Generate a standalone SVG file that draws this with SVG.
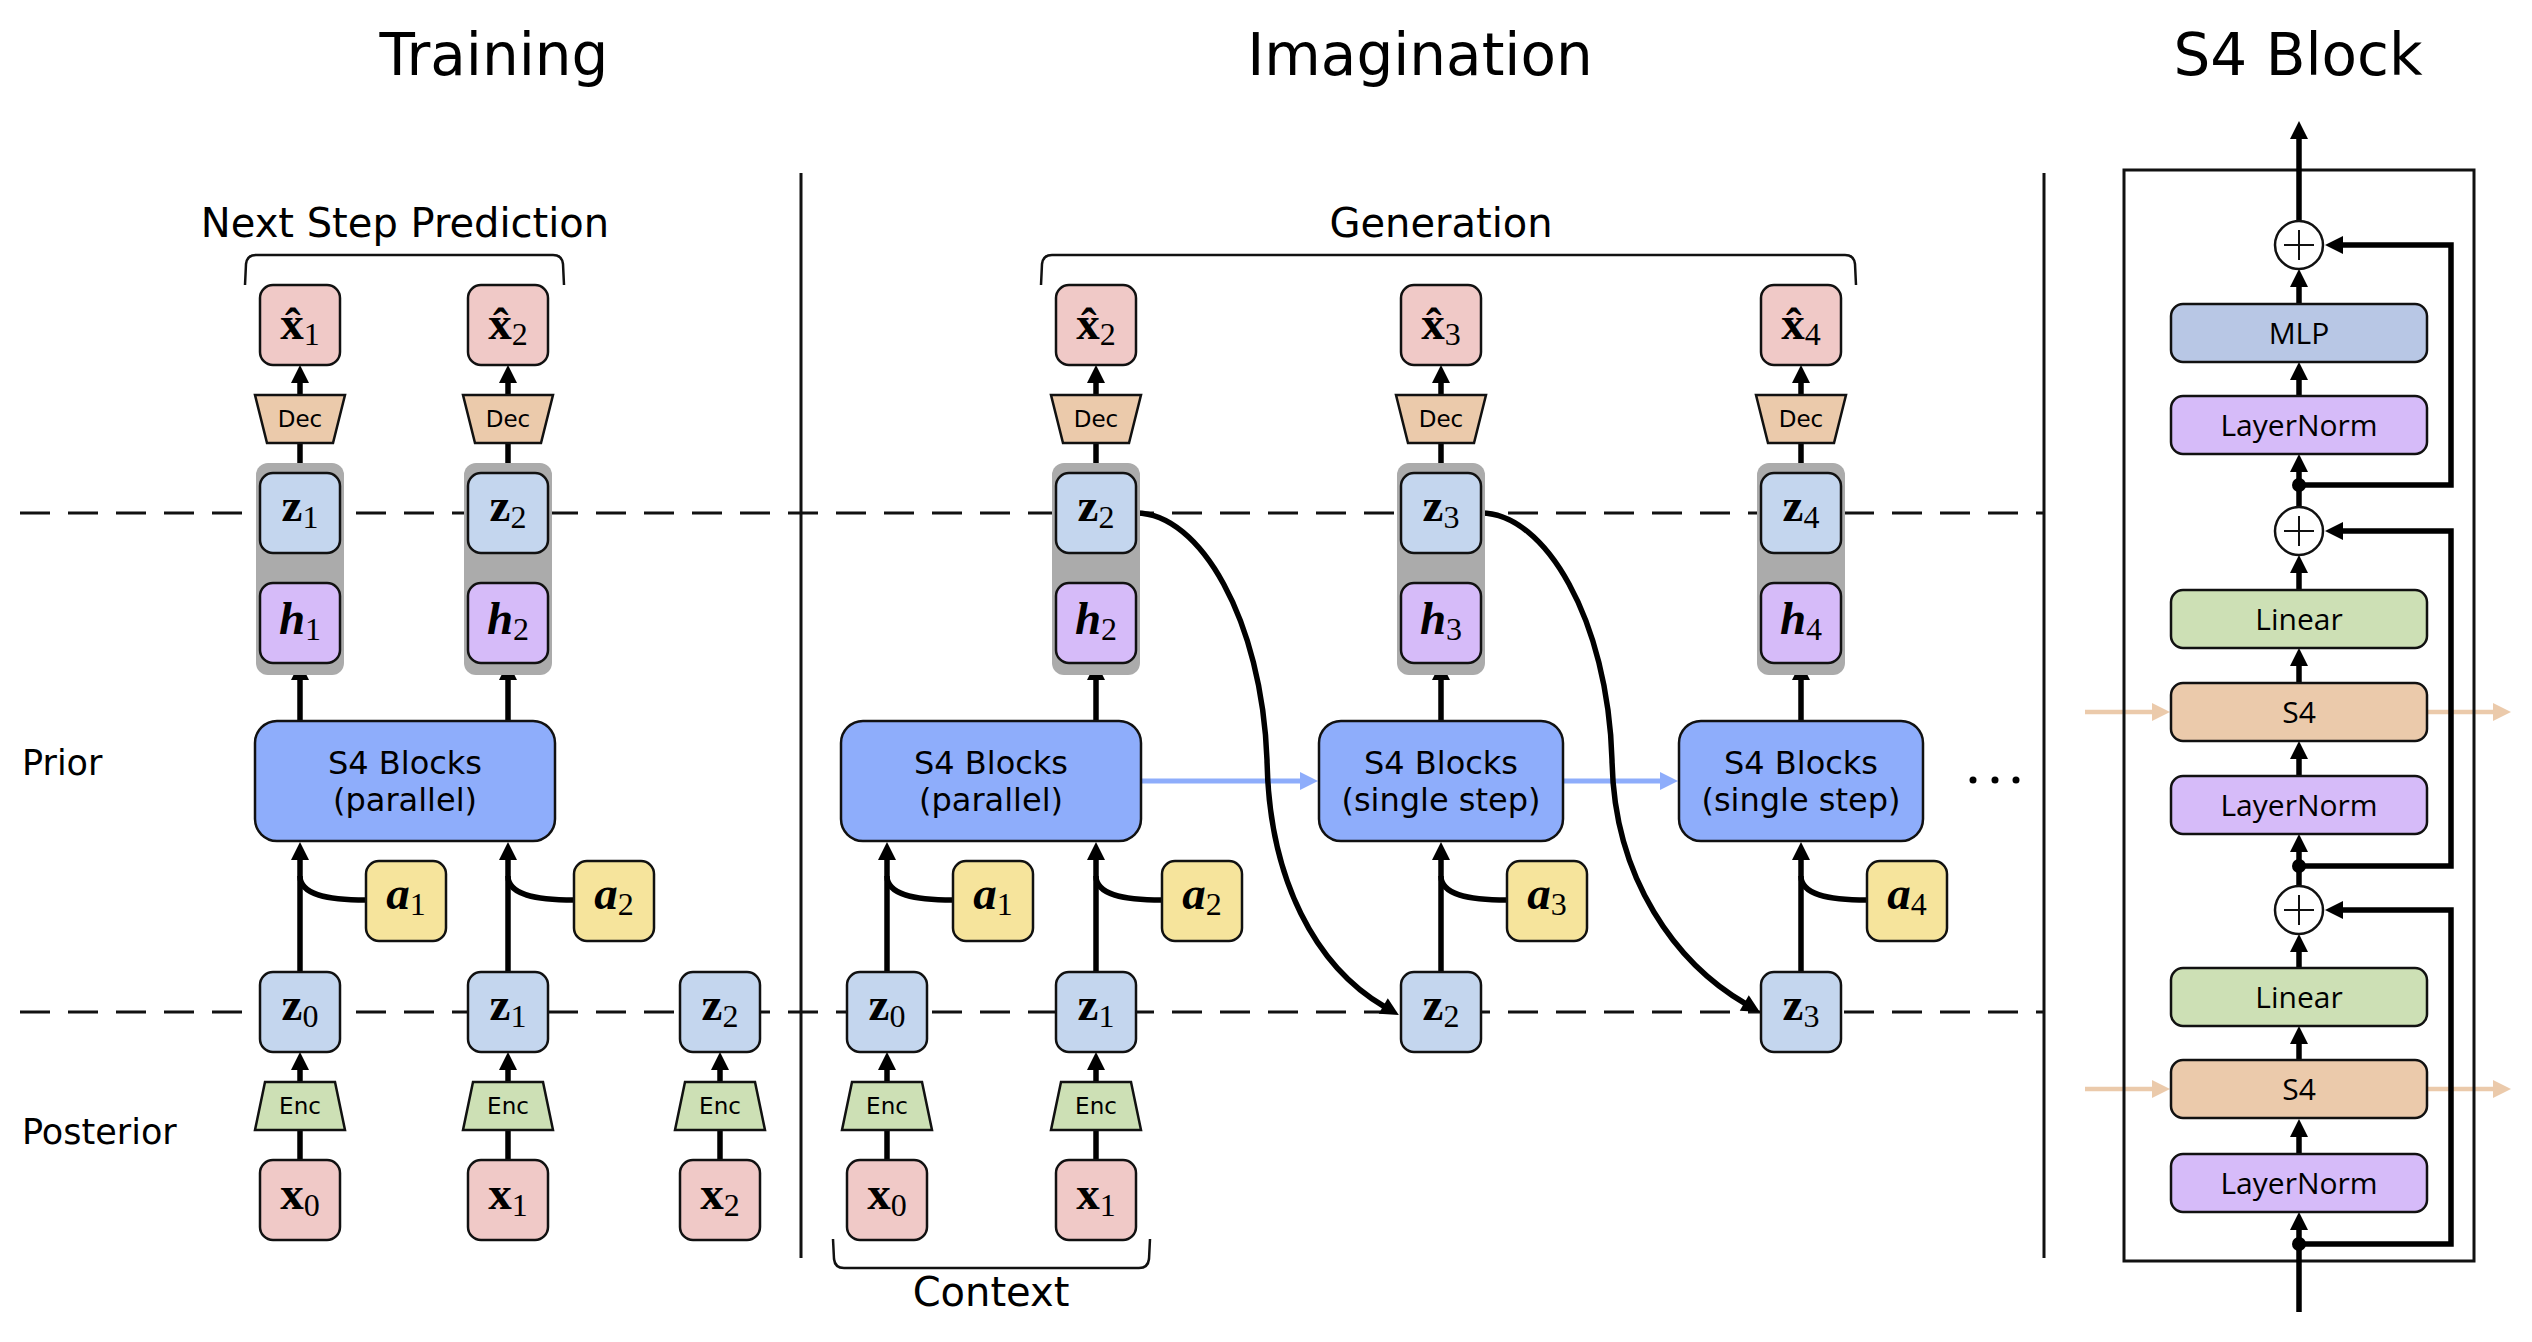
<svg xmlns="http://www.w3.org/2000/svg" width="2532" height="1342" viewBox="0 0 2532 1342">
<style>
.box{stroke:#111;stroke-width:2.5}
.xb{fill:#f0c9c7}.zb{fill:#c4d6ee}.hb{fill:#d6bbf9}.ab{fill:#f6e49c}.dec{fill:#ebcaab}.enc{fill:#cde0b5}.s4b{fill:#8eadfb}.gray{fill:#ababab}.mlp{fill:#b8c7e5}
.m{font-family:"Liberation Serif","DejaVu Serif",serif;font-weight:bold;font-size:47px;text-anchor:middle;fill:#000}
.mi{font-family:"Liberation Serif","DejaVu Serif",serif;font-weight:bold;font-style:italic;font-size:47px;text-anchor:middle;fill:#000}
.s{font-weight:normal;font-style:normal;font-size:32px}
.t{font-family:"DejaVu Sans",sans-serif;fill:#000}
.title{font-size:58px;text-anchor:middle}
.lbl{font-size:40px;text-anchor:middle}
.side{font-size:35px}
.s4t{font-size:32px;text-anchor:middle}
.small{font-size:23px;text-anchor:middle}
.pt{font-family:"Open Sans","Noto Sans",sans-serif;font-size:30px;text-anchor:middle;fill:#000}
.ln{stroke:#000;stroke-width:5.5;fill:none}
.br{stroke:#111;stroke-width:2.5;fill:none}
.dash{stroke:#111;stroke-width:3;stroke-dasharray:30 18;fill:none}
.sep{stroke:#111;stroke-width:3}
.blue{stroke:#8eadfb;stroke-width:5;fill:none}
.peach{stroke:#ebcaab;stroke-width:4.5;fill:none}
</style>
<defs>
<marker id="ah" viewBox="-2 -9 18 18" refX="0" refY="0" markerWidth="18" markerHeight="18" markerUnits="userSpaceOnUse" orient="auto" overflow="visible"><path d="M-2,-9 L16,0 L-2,9 Z" fill="#000"/></marker>
<marker id="ahb" viewBox="-2 -9 18 18" refX="0" refY="0" markerWidth="18" markerHeight="18" markerUnits="userSpaceOnUse" orient="auto" overflow="visible"><path d="M-2,-9 L16,0 L-2,9 Z" fill="#8eadfb"/></marker>
<marker id="ahp" viewBox="-2 -9 18 18" refX="0" refY="0" markerWidth="18" markerHeight="18" markerUnits="userSpaceOnUse" orient="auto" overflow="visible"><path d="M-2,-9 L16,0 L-2,9 Z" fill="#ebcaab"/></marker>
</defs>
<rect width="2532" height="1342" fill="#fff"/>

<g id="labels">
<text class="t title" x="494" y="75">Training</text>
<text class="t title" x="1420" y="75">Imagination</text>
<text class="t title" x="2298" y="75">S4 Block</text>
<text class="t lbl" x="405" y="237">Next Step Prediction</text>
<text class="t lbl" x="1441" y="237">Generation</text>
<text class="t lbl" x="991" y="1306">Context</text>
<text class="t side" x="22" y="775">Prior</text>
<text class="t side" x="22" y="1144">Posterior</text>
<path class="br" d="M245,285 L246,264 Q247,255 256,255 L553,255 Q562,255 563,264 L564,285"/>
<path class="br" d="M1041,285 L1042,264 Q1043,255 1052,255 L1845,255 Q1854,255 1855,264 L1856,285"/>
<path class="br" d="M833,1239 L834,1259 Q835,1268 844,1268 L1139,1268 Q1148,1268 1149,1259 L1150,1239"/>
<circle cx="1973" cy="780" r="3.5"/><circle cx="1995" cy="780" r="3.5"/><circle cx="2016" cy="780" r="3.5"/>
</g>

<g id="guides">
<line class="dash" x1="20" y1="513" x2="2043" y2="513"/>
<line class="dash" x1="20" y1="1012" x2="2043" y2="1012"/>
<line class="sep" x1="801" y1="173" x2="801" y2="1258"/>
<line class="sep" x1="2044" y1="173" x2="2044" y2="1258"/>
</g>

<g id="connectors">
<line class="ln" x1="300" y1="395" x2="300" y2="381" marker-end="url(#ah)"/>
<line class="ln" x1="300" y1="473" x2="300" y2="443"/>
<line class="ln" x1="300" y1="721" x2="300" y2="678" marker-end="url(#ah)"/>
<line class="ln" x1="300" y1="972" x2="300" y2="858" marker-end="url(#ah)"/>
<path class="ln" d="M366,900 C328,900 300,895 300,876"/>
<line class="ln" x1="300" y1="1082" x2="300" y2="1068" marker-end="url(#ah)"/>
<line class="ln" x1="300" y1="1160" x2="300" y2="1130"/>
<line class="ln" x1="508" y1="395" x2="508" y2="381" marker-end="url(#ah)"/>
<line class="ln" x1="508" y1="473" x2="508" y2="443"/>
<line class="ln" x1="508" y1="721" x2="508" y2="678" marker-end="url(#ah)"/>
<line class="ln" x1="508" y1="972" x2="508" y2="858" marker-end="url(#ah)"/>
<path class="ln" d="M574,900 C536,900 508,895 508,876"/>
<line class="ln" x1="508" y1="1082" x2="508" y2="1068" marker-end="url(#ah)"/>
<line class="ln" x1="508" y1="1160" x2="508" y2="1130"/>
<line class="ln" x1="720" y1="1082" x2="720" y2="1068" marker-end="url(#ah)"/>
<line class="ln" x1="720" y1="1160" x2="720" y2="1130"/>
<line class="ln" x1="887" y1="972" x2="887" y2="858" marker-end="url(#ah)"/>
<path class="ln" d="M953,900 C915,900 887,895 887,876"/>
<line class="ln" x1="887" y1="1082" x2="887" y2="1068" marker-end="url(#ah)"/>
<line class="ln" x1="887" y1="1160" x2="887" y2="1130"/>
<line class="ln" x1="1096" y1="395" x2="1096" y2="381" marker-end="url(#ah)"/>
<line class="ln" x1="1096" y1="473" x2="1096" y2="443"/>
<line class="ln" x1="1096" y1="583" x2="1096" y2="569" marker-end="url(#ah)"/>
<line class="ln" x1="1096" y1="721" x2="1096" y2="678" marker-end="url(#ah)"/>
<line class="ln" x1="1096" y1="972" x2="1096" y2="858" marker-end="url(#ah)"/>
<path class="ln" d="M1162,900 C1124,900 1096,895 1096,876"/>
<line class="ln" x1="1096" y1="1082" x2="1096" y2="1068" marker-end="url(#ah)"/>
<line class="ln" x1="1096" y1="1160" x2="1096" y2="1130"/>
<line class="ln" x1="1441" y1="395" x2="1441" y2="381" marker-end="url(#ah)"/>
<line class="ln" x1="1441" y1="473" x2="1441" y2="443"/>
<line class="ln" x1="1441" y1="583" x2="1441" y2="569" marker-end="url(#ah)"/>
<line class="ln" x1="1441" y1="721" x2="1441" y2="678" marker-end="url(#ah)"/>
<line class="ln" x1="1441" y1="972" x2="1441" y2="858" marker-end="url(#ah)"/>
<path class="ln" d="M1507,900 C1469,900 1441,895 1441,876"/>
<line class="ln" x1="1801" y1="395" x2="1801" y2="381" marker-end="url(#ah)"/>
<line class="ln" x1="1801" y1="473" x2="1801" y2="443"/>
<line class="ln" x1="1801" y1="583" x2="1801" y2="569" marker-end="url(#ah)"/>
<line class="ln" x1="1801" y1="721" x2="1801" y2="678" marker-end="url(#ah)"/>
<line class="ln" x1="1801" y1="972" x2="1801" y2="858" marker-end="url(#ah)"/>
<path class="ln" d="M1867,900 C1829,900 1801,895 1801,876"/>
<line class="blue" x1="1141" y1="781" x2="1302" y2="781" marker-end="url(#ahb)"/>
<line class="blue" x1="1563" y1="781" x2="1662" y2="781" marker-end="url(#ahb)"/>
<path class="ln" d="M1136,513 C1200,513 1262,620 1267,760 C1269,880 1316,967 1385,1007" marker-end="url(#ah)"/>
<path class="ln" d="M1481,513 C1545,513 1608,620 1612,760 C1614,880 1677,964 1746,1004" marker-end="url(#ah)"/>
</g>

<g id="training-nodes">
<g id="t-xhat1"><rect class="box xb" x="260" y="285" width="80" height="80" rx="13"/><text class="m" x="300" y="339">x̂<tspan class="s" dy="6">1</tspan></text></g>
<g id="t-dec1"><path class="box dec" d="M255,395 H345 L333,443 H267 Z"/><text class="t small" x="300" y="427">Dec</text></g>
<g id="t-stack1"><rect class="gray" x="256" y="463" width="88" height="212" rx="12"/>
<g id="t-z1"><rect class="box zb" x="260" y="473" width="80" height="80" rx="13"/><text class="m" x="300" y="521">z<tspan class="s" dy="7">1</tspan></text></g>
<g id="t-h1"><rect class="box hb" x="260" y="583" width="80" height="80" rx="13"/><text class="mi" x="300" y="634">h<tspan class="s" dy="6">1</tspan></text></g></g>
<g id="t-xhat2"><rect class="box xb" x="468" y="285" width="80" height="80" rx="13"/><text class="m" x="508" y="339">x̂<tspan class="s" dy="6">2</tspan></text></g>
<g id="t-dec2"><path class="box dec" d="M463,395 H553 L541,443 H475 Z"/><text class="t small" x="508" y="427">Dec</text></g>
<g id="t-stack2"><rect class="gray" x="464" y="463" width="88" height="212" rx="12"/>
<g id="t-z2"><rect class="box zb" x="468" y="473" width="80" height="80" rx="13"/><text class="m" x="508" y="521">z<tspan class="s" dy="7">2</tspan></text></g>
<g id="t-h2"><rect class="box hb" x="468" y="583" width="80" height="80" rx="13"/><text class="mi" x="508" y="634">h<tspan class="s" dy="6">2</tspan></text></g></g>
<g id="t-s4"><rect class="box s4b" x="255" y="721" width="300" height="120" rx="22"/><text class="t s4t" x="405" y="774">S4 Blocks</text><text class="t s4t" x="405" y="811">(parallel)</text></g>
<g id="t-a1"><rect class="box ab" x="366" y="861" width="80" height="80" rx="13"/><text class="mi" x="406" y="909">a<tspan class="s" dy="6">1</tspan></text></g>
<g id="t-a2"><rect class="box ab" x="574" y="861" width="80" height="80" rx="13"/><text class="mi" x="614" y="909">a<tspan class="s" dy="6">2</tspan></text></g>
<g id="t-z0"><rect class="box zb" x="260" y="972" width="80" height="80" rx="13"/><text class="m" x="300" y="1020">z<tspan class="s" dy="7">0</tspan></text></g>
<g id="t-z1p"><rect class="box zb" x="468" y="972" width="80" height="80" rx="13"/><text class="m" x="508" y="1020">z<tspan class="s" dy="7">1</tspan></text></g>
<g id="t-z2p"><rect class="box zb" x="680" y="972" width="80" height="80" rx="13"/><text class="m" x="720" y="1020">z<tspan class="s" dy="7">2</tspan></text></g>
<g id="t-enc0"><path class="box enc" d="M265,1082 H335 L345,1130 H255 Z"/><text class="t small" x="300" y="1114">Enc</text></g>
<g id="t-enc1"><path class="box enc" d="M473,1082 H543 L553,1130 H463 Z"/><text class="t small" x="508" y="1114">Enc</text></g>
<g id="t-enc2"><path class="box enc" d="M685,1082 H755 L765,1130 H675 Z"/><text class="t small" x="720" y="1114">Enc</text></g>
<g id="t-x0"><rect class="box xb" x="260" y="1160" width="80" height="80" rx="13"/><text class="m" x="300" y="1209">x<tspan class="s" dy="7">0</tspan></text></g>
<g id="t-x1"><rect class="box xb" x="468" y="1160" width="80" height="80" rx="13"/><text class="m" x="508" y="1209">x<tspan class="s" dy="7">1</tspan></text></g>
<g id="t-x2"><rect class="box xb" x="680" y="1160" width="80" height="80" rx="13"/><text class="m" x="720" y="1209">x<tspan class="s" dy="7">2</tspan></text></g>
</g>

<g id="imagination-nodes">
<g id="i-xhat2"><rect class="box xb" x="1056" y="285" width="80" height="80" rx="13"/><text class="m" x="1096" y="339">x̂<tspan class="s" dy="6">2</tspan></text></g>
<g id="i-dec2"><path class="box dec" d="M1051,395 H1141 L1129,443 H1063 Z"/><text class="t small" x="1096" y="427">Dec</text></g>
<g id="i-stack2"><rect class="gray" x="1052" y="463" width="88" height="212" rx="12"/>
<g id="i-z2"><rect class="box zb" x="1056" y="473" width="80" height="80" rx="13"/><text class="m" x="1096" y="521">z<tspan class="s" dy="7">2</tspan></text></g>
<g id="i-h2"><rect class="box hb" x="1056" y="583" width="80" height="80" rx="13"/><text class="mi" x="1096" y="634">h<tspan class="s" dy="6">2</tspan></text></g></g>
<g id="i-xhat3"><rect class="box xb" x="1401" y="285" width="80" height="80" rx="13"/><text class="m" x="1441" y="339">x̂<tspan class="s" dy="6">3</tspan></text></g>
<g id="i-dec3"><path class="box dec" d="M1396,395 H1486 L1474,443 H1408 Z"/><text class="t small" x="1441" y="427">Dec</text></g>
<g id="i-stack3"><rect class="gray" x="1397" y="463" width="88" height="212" rx="12"/>
<g id="i-z3"><rect class="box zb" x="1401" y="473" width="80" height="80" rx="13"/><text class="m" x="1441" y="521">z<tspan class="s" dy="7">3</tspan></text></g>
<g id="i-h3"><rect class="box hb" x="1401" y="583" width="80" height="80" rx="13"/><text class="mi" x="1441" y="634">h<tspan class="s" dy="6">3</tspan></text></g></g>
<g id="i-xhat4"><rect class="box xb" x="1761" y="285" width="80" height="80" rx="13"/><text class="m" x="1801" y="339">x̂<tspan class="s" dy="6">4</tspan></text></g>
<g id="i-dec4"><path class="box dec" d="M1756,395 H1846 L1834,443 H1768 Z"/><text class="t small" x="1801" y="427">Dec</text></g>
<g id="i-stack4"><rect class="gray" x="1757" y="463" width="88" height="212" rx="12"/>
<g id="i-z4"><rect class="box zb" x="1761" y="473" width="80" height="80" rx="13"/><text class="m" x="1801" y="521">z<tspan class="s" dy="7">4</tspan></text></g>
<g id="i-h4"><rect class="box hb" x="1761" y="583" width="80" height="80" rx="13"/><text class="mi" x="1801" y="634">h<tspan class="s" dy="6">4</tspan></text></g></g>
<g id="i-s4p"><rect class="box s4b" x="841" y="721" width="300" height="120" rx="22"/><text class="t s4t" x="991" y="774">S4 Blocks</text><text class="t s4t" x="991" y="811">(parallel)</text></g>
<g id="i-s4s3"><rect class="box s4b" x="1319" y="721" width="244" height="120" rx="22"/><text class="t s4t" x="1441" y="774">S4 Blocks</text><text class="t s4t" x="1441" y="811">(single step)</text></g>
<g id="i-s4s4"><rect class="box s4b" x="1679" y="721" width="244" height="120" rx="22"/><text class="t s4t" x="1801" y="774">S4 Blocks</text><text class="t s4t" x="1801" y="811">(single step)</text></g>
<g id="i-a1"><rect class="box ab" x="953" y="861" width="80" height="80" rx="13"/><text class="mi" x="993" y="909">a<tspan class="s" dy="6">1</tspan></text></g>
<g id="i-a2"><rect class="box ab" x="1162" y="861" width="80" height="80" rx="13"/><text class="mi" x="1202" y="909">a<tspan class="s" dy="6">2</tspan></text></g>
<g id="i-a3"><rect class="box ab" x="1507" y="861" width="80" height="80" rx="13"/><text class="mi" x="1547" y="909">a<tspan class="s" dy="6">3</tspan></text></g>
<g id="i-a4"><rect class="box ab" x="1867" y="861" width="80" height="80" rx="13"/><text class="mi" x="1907" y="909">a<tspan class="s" dy="6">4</tspan></text></g>
<g id="i-z0"><rect class="box zb" x="847" y="972" width="80" height="80" rx="13"/><text class="m" x="887" y="1020">z<tspan class="s" dy="7">0</tspan></text></g>
<g id="i-z1"><rect class="box zb" x="1056" y="972" width="80" height="80" rx="13"/><text class="m" x="1096" y="1020">z<tspan class="s" dy="7">1</tspan></text></g>
<g id="i-z2p"><rect class="box zb" x="1401" y="972" width="80" height="80" rx="13"/><text class="m" x="1441" y="1020">z<tspan class="s" dy="7">2</tspan></text></g>
<g id="i-z3p"><rect class="box zb" x="1761" y="972" width="80" height="80" rx="13"/><text class="m" x="1801" y="1020">z<tspan class="s" dy="7">3</tspan></text></g>
<g id="i-enc0"><path class="box enc" d="M852,1082 H922 L932,1130 H842 Z"/><text class="t small" x="887" y="1114">Enc</text></g>
<g id="i-enc1"><path class="box enc" d="M1061,1082 H1131 L1141,1130 H1051 Z"/><text class="t small" x="1096" y="1114">Enc</text></g>
<g id="i-x0"><rect class="box xb" x="847" y="1160" width="80" height="80" rx="13"/><text class="m" x="887" y="1209">x<tspan class="s" dy="7">0</tspan></text></g>
<g id="i-x1"><rect class="box xb" x="1056" y="1160" width="80" height="80" rx="13"/><text class="m" x="1096" y="1209">x<tspan class="s" dy="7">1</tspan></text></g>
</g>

<g id="s4block">
<g id="s4-io">
<line class="peach" x1="2085" y1="712" x2="2154" y2="712" marker-end="url(#ahp)"/>
<line class="peach" x1="2427" y1="712" x2="2495" y2="712" marker-end="url(#ahp)"/>
<line class="peach" x1="2085" y1="1089" x2="2154" y2="1089" marker-end="url(#ahp)"/>
<line class="peach" x1="2427" y1="1089" x2="2495" y2="1089" marker-end="url(#ahp)"/>
</g>
<rect id="s4-frame" x="2124" y="170" width="350" height="1091" fill="none" stroke="#111" stroke-width="3"/>
<g id="s4-connectors">
<line class="ln" x1="2299" y1="1312" x2="2299" y2="1228" marker-end="url(#ah)"/>
<line class="ln" x1="2299" y1="1154" x2="2299" y2="1135" marker-end="url(#ah)"/>
<line class="ln" x1="2299" y1="1060" x2="2299" y2="1042" marker-end="url(#ah)"/>
<line class="ln" x1="2299" y1="968" x2="2299" y2="950" marker-end="url(#ah)"/>
<line class="ln" x1="2299" y1="886" x2="2299" y2="850" marker-end="url(#ah)"/>
<line class="ln" x1="2299" y1="776" x2="2299" y2="757" marker-end="url(#ah)"/>
<line class="ln" x1="2299" y1="683" x2="2299" y2="664" marker-end="url(#ah)"/>
<line class="ln" x1="2299" y1="590" x2="2299" y2="571" marker-end="url(#ah)"/>
<line class="ln" x1="2299" y1="507" x2="2299" y2="470" marker-end="url(#ah)"/>
<line class="ln" x1="2299" y1="396" x2="2299" y2="378" marker-end="url(#ah)"/>
<line class="ln" x1="2299" y1="304" x2="2299" y2="285" marker-end="url(#ah)"/>
<line class="ln" x1="2299" y1="221" x2="2299" y2="137" marker-end="url(#ah)"/>
<path class="ln" d="M2299,1244 H2451 V910 H2341" marker-end="url(#ah)"/>
<path class="ln" d="M2299,866 H2451 V531 H2341" marker-end="url(#ah)"/>
<path class="ln" d="M2299,485 H2451 V245 H2341" marker-end="url(#ah)"/>
<circle cx="2299" cy="1244" r="7"/>
<circle cx="2299" cy="866" r="7"/>
<circle cx="2299" cy="485" r="7"/>
</g>
<g id="s4-add1"><circle cx="2299" cy="245" r="24" fill="#fff" stroke="#111" stroke-width="2.5"/><path d="M2284,245 H2314 M2299,230 V260" stroke="#111" stroke-width="2"/></g>
<g id="s4-mlp"><rect class="box mlp" x="2171" y="304" width="256" height="58" rx="12"/><text class="pt" x="2299" y="344">MLP</text></g>
<g id="s4-ln1"><rect class="box hb" x="2171" y="396" width="256" height="58" rx="12"/><text class="pt" x="2299" y="436">LayerNorm</text></g>
<g id="s4-add2"><circle cx="2299" cy="531" r="24" fill="#fff" stroke="#111" stroke-width="2.5"/><path d="M2284,531 H2314 M2299,516 V546" stroke="#111" stroke-width="2"/></g>
<g id="s4-lin1"><rect class="box enc" x="2171" y="590" width="256" height="58" rx="12"/><text class="pt" x="2299" y="630">Linear</text></g>
<g id="s4-s4a"><rect class="box dec" x="2171" y="683" width="256" height="58" rx="12"/><text class="pt" x="2299" y="723">S4</text></g>
<g id="s4-ln2"><rect class="box hb" x="2171" y="776" width="256" height="58" rx="12"/><text class="pt" x="2299" y="816">LayerNorm</text></g>
<g id="s4-add3"><circle cx="2299" cy="910" r="24" fill="#fff" stroke="#111" stroke-width="2.5"/><path d="M2284,910 H2314 M2299,895 V925" stroke="#111" stroke-width="2"/></g>
<g id="s4-lin2"><rect class="box enc" x="2171" y="968" width="256" height="58" rx="12"/><text class="pt" x="2299" y="1008">Linear</text></g>
<g id="s4-s4b"><rect class="box dec" x="2171" y="1060" width="256" height="58" rx="12"/><text class="pt" x="2299" y="1100">S4</text></g>
<g id="s4-ln3"><rect class="box hb" x="2171" y="1154" width="256" height="58" rx="12"/><text class="pt" x="2299" y="1194">LayerNorm</text></g>
</g>
</svg>
